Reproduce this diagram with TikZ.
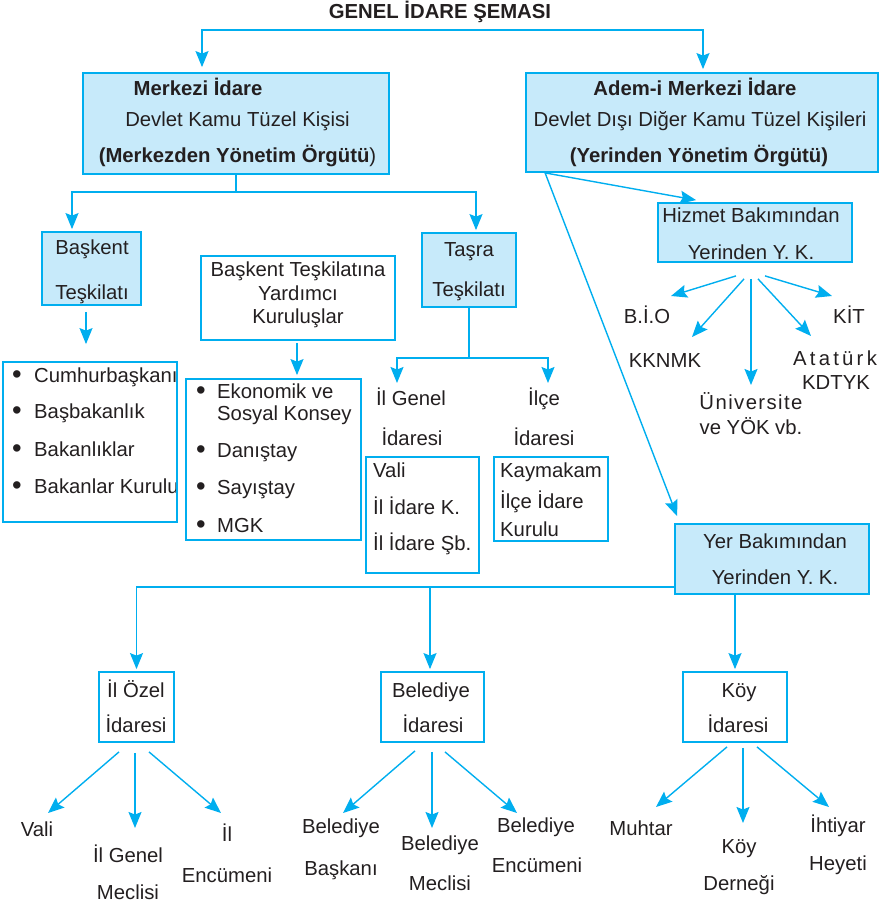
\documentclass[tikz,border=0pt]{standalone}
\usepackage{fontspec}
\setmainfont{Liberation Sans}
\newfontfamily\spacedA[LetterSpace=16]{Liberation Sans}
\newfontfamily\spacedB[LetterSpace=7]{Liberation Sans}
\usetikzlibrary{arrows.meta,fit,calc}
\definecolor{lineblue}{RGB}{0,174,239}
\definecolor{fillblue}{RGB}{199,234,250}
\definecolor{ink}{RGB}{35,31,32}
\newcommand{\blt}[1]{\makebox[#1][l]{\raisebox{-0.6pt}{\scalebox{1.35}{•}}}}
\begin{document}
\begin{tikzpicture}[x=1pt,y=-1pt,
  bluebox/.style={draw=lineblue,fill=fillblue,line width=1.8pt,inner sep=0pt},
  whitebox/.style={draw=lineblue,line width=1.8pt,inner sep=0pt},
  conn/.style={draw=lineblue,line width=1.4pt},
  arr/.style={conn,-{Stealth[length=16pt,width=13pt,inset=2.5pt]}},
  lbl/.style={font=\fontsize{20.3}{24}\selectfont,text=ink,inner sep=0pt,anchor=mid,yshift=-5pt},
  lblw/.style={lbl,anchor=mid west},
  blbl/.style={lbl,font=\fontsize{20.3}{24}\selectfont\bfseries},
]
\useasboundingbox (0,0) rectangle (879,906);

% ---------- boxes ----------
\node[bluebox,fit={(83,73) (389,174)}] (merk) {};
\node[bluebox,fit={(526,73) (878,172)}] (adem) {};
\node[bluebox,fit={(42,232) (141,305)}] (bask) {};
\node[whitebox,fit={(201,256) (395,340)}] (yard) {};
\node[whitebox,fit={(186,379) (361,540)}] (list2) {};
\node[bluebox,fit={(422,233) (516,307)}] (tasra) {};
\node[whitebox,fit={(366,457) (479,573)}] (vali) {};
\node[whitebox,fit={(494,457) (608,541)}] (kaym) {};
\node[bluebox,fit={(658,203) (852,262)}] (hizm) {};
\node[bluebox,fit={(675,524) (869,594)}] (yer) {};
\node[whitebox,fit={(99,672) (174,742)}] (ozel) {};
\node[whitebox,fit={(381,672) (484,742)}] (bel) {};
\node[whitebox,fit={(683,672) (787,742)}] (koy) {};

% ---------- texts ----------
\node[blbl] (title) at (440,11) {GENEL İDARE ŞEMASI};

\node[blbl] (m1) at (198,88) {Merkezi İdare};
\node[lbl] (m2) at (237.5,119) {Devlet Kamu Tüzel Kişisi};
\node[lbl] (m3) at (237.5,155) {\textbf{(Merkezden Yönetim Örgütü})};

\node[blbl] (a1) at (695,88) {Adem-i Merkezi İdare};
\node[lbl] (a2) at (700,119) {Devlet Dışı Diğer Kamu Tüzel Kişileri};
\node[blbl] (a3) at (699,155) {(Yerinden Yönetim Örgütü)};

\node[lbl] (b1) at (92,247) {Başkent};
\node[lbl] (b2) at (92,292) {Teşkilatı};

\node[lblw] (l11) at (12,375) {\blt{22pt}Cumhurbaşkanı};
\node[lblw] (l12) at (12,411) {\blt{22pt}Başbakanlık};
\node[lblw] (l13) at (12,449) {\blt{22pt}Bakanlıklar};
\node[lblw] (l14) at (12,486) {\blt{22pt}Bakanlar Kurulu};
\node[whitebox,fit={(3,362) (177,522)}] (list1) {};

\node[lbl] (y1) at (298,269) {Başkent Teşkilatına};
\node[lbl] (y2) at (298,293) {Yardımcı};
\node[lbl] (y3) at (298,316) {Kuruluşlar};

\node[lblw] (l21) at (196,391) {\blt{21pt}Ekonomik ve};
\node[lblw] (l22) at (217,413) {Sosyal Konsey};
\node[lblw] (l23) at (196,450) {\blt{21pt}Danıştay};
\node[lblw] (l24) at (196,487) {\blt{21pt}Sayıştay};
\node[lblw] (l25) at (196,525) {\blt{21pt}MGK};

\node[lbl] (ts1) at (469,249) {Taşra};
\node[lbl] (ts2) at (469,289) {Teşkilatı};

\node[lbl] (ig1) at (411,398) {İl Genel};
\node[lbl] (ig2) at (412,438) {İdaresi};
\node[lbl] (ic1) at (544,398) {İlçe};
\node[lbl] (ic2) at (544,438) {İdaresi};

\node[lblw] (v1) at (373,470) {Vali};
\node[lblw] (v2) at (373,507) {İl İdare K.};
\node[lblw] (v3) at (373,543) {İl İdare Şb.};

\node[lblw] (k1) at (500,470) {Kaymakam};
\node[lblw] (k2) at (500,501) {İlçe İdare};
\node[lblw] (k3) at (500,529) {Kurulu};

\node[lbl] (h1) at (751,215) {Hizmet Bakımından};
\node[lbl] (h2) at (751,252) {Yerinden Y. K.};

\node[lbl] (bio) at (647,316) {B.İ.O};
\node[lbl] (kit) at (849,316) {KİT};
\node[lbl] (kkn) at (665,360) {KKNMK};
\node[lbl] (ata1) at (835,358) {\spacedA Atatürk};
\node[lbl] (ata2) at (836,382) {KDTYK};
\node[lbl] (uni1) at (751,402) {\spacedB Üniversite};
\node[lbl] (uni2) at (751,427) {ve YÖK vb.};

\node[lbl] (yr1) at (775,541) {Yer Bakımından};
\node[lbl] (yr2) at (775,577) {Yerinden Y. K.};

\node[lbl] (oz1) at (136,690) {İl Özel};
\node[lbl] (oz2) at (136,725) {İdaresi};
\node[lbl] (be1) at (431,690) {Belediye};
\node[lbl] (be2) at (433,725) {İdaresi};
\node[lbl] (ko1) at (739,690) {Köy};
\node[lbl] (ko2) at (738,725) {İdaresi};

\node[lbl] (o1) at (37,829) {Vali};
\node[lbl] (o2a) at (128,855) {İl Genel};
\node[lbl] (o2b) at (128,892) {Meclisi};
\node[lbl] (o3a) at (227,834) {İl};
\node[lbl] (o3b) at (227,875) {Encümeni};

\node[lbl] (e1a) at (341,826) {Belediye};
\node[lbl] (e1b) at (341,868) {Başkanı};
\node[lbl] (e2a) at (440,843) {Belediye};
\node[lbl] (e2b) at (440,883) {Meclisi};
\node[lbl] (e3a) at (536,825) {Belediye};
\node[lbl] (e3b) at (537,865) {Encümeni};

\node[lbl] (c1) at (641,828) {Muhtar};
\node[lbl] (c2a) at (739,846) {Köy};
\node[lbl] (c2b) at (739,883) {Derneği};
\node[lbl] (c3a) at (838,825) {İhtiyar};
\node[lbl] (c3b) at (838,863) {Heyeti};

% ---------- connectors ----------
\coordinate (topL) at (202,30);
\coordinate (topR) at (703,30);
\draw[arr,shorten >=5pt] (topR) -- (topL) -- (topL |- merk.north);
\draw[arr,shorten >=3pt] (topL) -- (topR) -- (topR |- adem.north);

\coordinate (mJ) at (236,192);
\coordinate (mL) at (72,192);
\coordinate (mR) at (476,192);
\draw[conn] (merk.south) -- (mJ);
\draw[arr,shorten >=2pt] (mJ) -- (mL) -- (mL |- bask.north);
\draw[arr,shorten >=2pt] (mJ) -- (mR) -- (mR |- tasra.north);

\coordinate (bA) at (86,0);
\draw[arr,shorten <=6pt,shorten >=17pt] (bA |- bask.south) -- (bA |- list1.north);
\coordinate (yA) at (297,0);
\draw[arr,shorten <=2pt,shorten >=3pt] (yA |- yard.south) -- (yA |- list2.north);

\coordinate (tJ) at (469,358);
\coordinate (tL) at (397,358);
\coordinate (tR) at (548,358);
\coordinate (tLe) at (397,383);
\coordinate (tRe) at (548,383);
\draw[conn] (tasra.south) -- (tJ);
\draw[arr] (tJ) -- (tL) -- (tLe);
\draw[arr] (tJ) -- (tR) -- (tRe);

\draw[arr] ($(adem.south west)+(20,0)$) -- ($(hizm.north west)+(39,-2)$);
\draw[arr] ($(adem.south west)+(20,0)$) -- ($(yer.north west)+(3,-7)$);

\coordinate (hBio) at (671,296);
\coordinate (hKkn) at (692,337);
\coordinate (hUni) at (751,385);
\coordinate (hAta) at (811,336);
\coordinate (hKit) at (832,296);
\draw[arr] ($(hizm.south)+(-19,13)$) -- (hBio);
\draw[arr] ($(hizm.south)+(-11,16)$) -- (hKkn);
\draw[arr] ($(hizm.south)+(-4,16)$) -- (hUni);
\draw[arr] ($(hizm.south)+(3,16)$) -- (hAta);
\draw[arr] ($(hizm.south)+(10,13)$) -- (hKit);

\draw[arr,shorten >=2pt] ($(yer.south west)+(0,-8)$) -| (ozel.north);
\coordinate (yB) at (430,586);
\draw[arr,shorten >=2pt] (yB) -- (yB |- bel.north);
\draw[arr,shorten >=2pt] (koy.north |- yer.south) -- (koy.north);

\coordinate (oE1) at (48,813);
\coordinate (oE2) at (135,828);
\coordinate (oE3) at (221,813);
\draw[arr] ($(ozel.south)+(-17.5,9)$) -- (oE1);
\draw[arr] ($(ozel.south)+(-1.5,10)$) -- (oE2);
\draw[arr] ($(ozel.south)+(12.5,9)$) -- (oE3);

\coordinate (bE1) at (343,813);
\coordinate (bE2) at (432,828);
\coordinate (bE3) at (517,813);
\draw[arr] ($(bel.south)+(-17.5,8)$) -- (bE1);
\draw[arr] ($(bel.south)+(-0.5,9)$) -- (bE2);
\draw[arr] ($(bel.south)+(12.5,9)$) -- (bE3);

\coordinate (kE1) at (656,807);
\coordinate (kE2) at (743,823);
\coordinate (kE3) at (829,807);
\draw[arr] ($(koy.south)+(-8,4)$) -- (kE1);
\draw[arr] ($(koy.south)+(8,5)$) -- (kE2);
\draw[arr] ($(koy.south)+(22,4)$) -- (kE3);
\end{tikzpicture}
\end{document}
